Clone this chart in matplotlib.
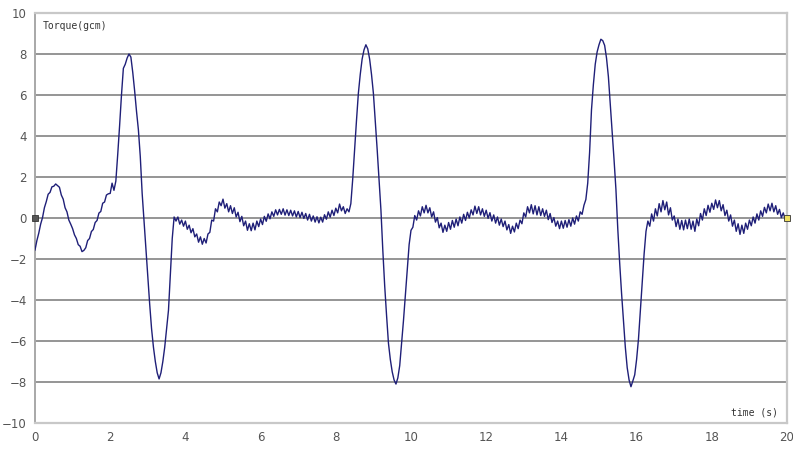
import numpy as np
import matplotlib
matplotlib.use("Agg")
import matplotlib.pyplot as plt

# torque samples every 0.05 s, one row per second
torque = [
    -1.56, -1.10, -0.74, -0.30, 0.02, 0.50, 0.80, 1.16, 1.25, 1.52,
    1.55, 1.66, 1.58, 1.50, 1.12, 0.92, 0.50, 0.30, -0.10, -0.30,
    -0.52, -0.82, -1.00, -1.30, -1.38, -1.64, -1.58, -1.45, -1.10, -1.00,
    -0.66, -0.56, -0.22, -0.12, 0.24, 0.32, 0.72, 0.78, 1.12, 1.18,
    1.20, 1.70, 1.35, 1.80, 3.10, 4.50, 6.00, 7.30, 7.50, 7.80,
    8.00, 7.85, 7.10, 6.20, 5.20, 4.30, 3.00, 1.20, -0.15, -1.50,
    -2.80, -4.20, -5.40, -6.30, -7.00, -7.55, -7.85, -7.55, -7.00, -6.30,
    -5.40, -4.50, -2.70, -1.00, 0.05, -0.15, 0.05, -0.30, -0.10, -0.40,
    -0.15, -0.55, -0.35, -0.72, -0.52, -0.92, -0.78, -1.18, -0.92, -1.28,
    -1.00, -1.22, -0.78, -0.70, -0.10, -0.15, 0.45, 0.30, 0.78, 0.60,
    0.92, 0.48, 0.70, 0.30, 0.60, 0.22, 0.50, 0.05, 0.28, -0.18,
    0.08, -0.38, -0.15, -0.60, -0.28, -0.62, -0.25, -0.58, -0.15, -0.42,
    -0.05, -0.32, 0.08, -0.16, 0.20, -0.04, 0.30, 0.08, 0.40, 0.15,
    0.42, 0.18, 0.45, 0.14, 0.40, 0.12, 0.38, 0.10, 0.35, 0.05,
    0.32, 0.02, 0.28, -0.02, 0.22, -0.10, 0.18, -0.15, 0.10, -0.20,
    0.06, -0.24, 0.04, -0.20, 0.16, -0.06, 0.30, 0.04, 0.38, 0.12,
    0.48, 0.25, 0.68, 0.35, 0.55, 0.22, 0.45, 0.30, 0.70, 1.90,
    3.35, 4.75, 6.08, 7.00, 7.75, 8.20, 8.45, 8.25, 7.75, 7.00,
    6.08, 4.75, 3.35, 1.90, 0.40, -1.56, -3.30, -4.75, -6.10, -6.90,
    -7.50, -7.90, -8.10, -7.80, -7.20, -6.10, -5.00, -3.80, -2.54, -1.30,
    -0.60, -0.45, 0.12, -0.10, 0.35, 0.10, 0.55, 0.25, 0.62, 0.25,
    0.50, 0.05, 0.30, -0.20, 0.02, -0.48, -0.25, -0.70, -0.35, -0.65,
    -0.22, -0.55, -0.12, -0.45, -0.05, -0.38, 0.05, -0.25, 0.18, -0.12,
    0.28, 0.00, 0.40, 0.15, 0.58, 0.22, 0.55, 0.15, 0.45, 0.08,
    0.38, -0.02, 0.26, -0.15, 0.15, -0.25, 0.05, -0.35, -0.05, -0.42,
    -0.15, -0.58, -0.32, -0.75, -0.40, -0.68, -0.25, -0.52, -0.10, -0.28,
    0.25, 0.05, 0.55, 0.25, 0.65, 0.20, 0.60, 0.15, 0.55, 0.12,
    0.45, 0.08, 0.38, -0.08, 0.22, -0.22, 0.02, -0.40, -0.15, -0.52,
    -0.15, -0.50, -0.12, -0.45, -0.08, -0.40, 0.00, -0.30, 0.10, -0.15,
    0.30, 0.18, 0.62, 0.90, 1.70, 3.20, 5.27, 6.50, 7.50, 8.10,
    8.45, 8.72, 8.65, 8.42, 7.80, 6.89, 5.55, 4.20, 2.85, 1.40,
    -0.55, -2.20, -3.67, -5.00, -6.30, -7.30, -7.90, -8.23, -7.95, -7.65,
    -6.90, -5.90, -4.50, -3.10, -1.75, -0.65, -0.15, -0.40, 0.20, -0.15,
    0.45, 0.10, 0.70, 0.30, 0.85, 0.40, 0.78, 0.15, 0.50, -0.10,
    0.10, -0.42, -0.05, -0.55, -0.12, -0.58, -0.10, -0.52, -0.05, -0.55,
    -0.15, -0.65, -0.05, -0.38, 0.22, -0.10, 0.45, 0.12, 0.62, 0.28,
    0.72, 0.42, 0.88, 0.50, 0.85, 0.35, 0.65, 0.12, 0.38, -0.15,
    0.15, -0.40, -0.10, -0.65, -0.28, -0.80, -0.35, -0.75, -0.25, -0.55,
    -0.10, -0.38, 0.05, -0.25, 0.20, -0.10, 0.35, 0.08, 0.52, 0.25,
    0.68, 0.35, 0.72, 0.30, 0.60, 0.18, 0.42, 0.02, 0.25, -0.05,
    0.00,
]
time = np.arange(len(torque)) * 0.05

# selection handles at the ends of the series
handle_t = [0.0, 20.0]
handle_v = [0.0, 0.0]
handle_colors = ["#555555", "#f0e060"]

y_ticks = list(range(-10, 11, 2))
x_ticks = list(range(0, 21, 2))

fig = plt.figure(figsize=(7.93, 4.5), dpi=100)
ax = fig.add_axes([35 / 793, 27 / 450, 752 / 793, 410 / 450])

for v in y_ticks[1:-1]:
    ax.axhline(v, color="#8c8c8c", linewidth=1.3, zorder=1)

ax.plot(time, torque, color="#1f1f78", linewidth=1.0, zorder=3)
for t, v, c in zip(handle_t, handle_v, handle_colors):
    ax.plot(t, v, marker="s", markersize=4, markerfacecolor=c,
            markeredgecolor="#333333", markeredgewidth=0.6, zorder=4,
            clip_on=False)

ax.set_xlim(0, 20)
ax.set_ylim(-10, 10)
ax.set_xticks(x_ticks)
ax.set_yticks(y_ticks)
ax.tick_params(length=0, labelsize=8.5, labelcolor="#555555", pad=6)

for side in ("top", "bottom", "right"):
    ax.spines[side].set_color("#c8c8c8")
    ax.spines[side].set_linewidth(1.6)
ax.spines["left"].set_color("#a8a8a8")
ax.spines["left"].set_linewidth(1.4)

ax.text(0.2, 9.35, "Torque(gcm)", fontsize=7, family="DejaVu Sans Mono",
        color="#333333", va="center", ha="left")
ax.text(19.75, -9.5, "time (s)", fontsize=7, family="DejaVu Sans Mono",
        color="#333333", va="center", ha="right")

fig.savefig("out.png", dpi=100)
